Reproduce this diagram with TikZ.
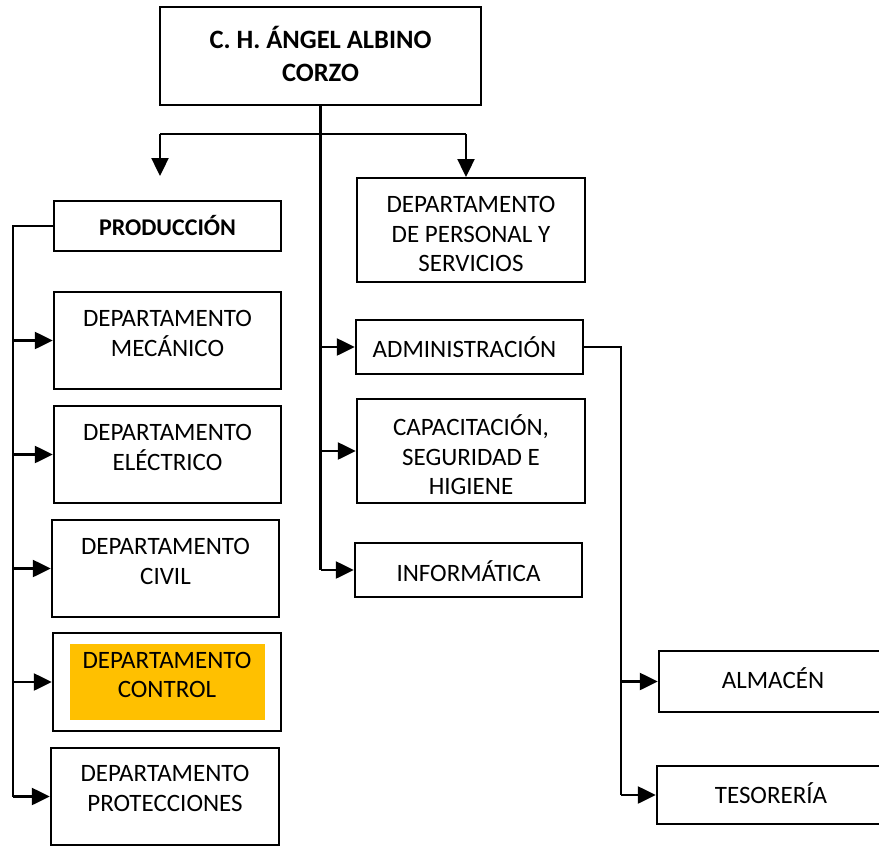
\documentclass[tikz,border=0pt]{standalone}
\usepackage{fontspec}
\setmainfont{Carlito}
\usetikzlibrary{arrows.meta}
\definecolor{orgfill}{HTML}{FFC000}
\begin{document}
\begin{tikzpicture}[x=1pt,y=-1pt,
  box/.style={draw=black,line width=2.4pt,fill=white,inner sep=0pt},
  txt/.style={align=center,inner sep=0pt,font=\fontsize{25}{29.5}\selectfont},
  btxt/.style={txt,font=\fontsize{24}{33}\selectfont\bfseries},
  conn/.style={line width=2.4pt},
  arr/.style={conn,-{Triangle[length=18pt,width=17pt]}}]
\useasboundingbox (0,0) rectangle (879,846);
% boxes
\node[box,minimum width=321,minimum height=98] (top) at (320.5,56) {};
\node[btxt,font=\fontsize{26.5}{33}\selectfont\bfseries] (topt) at ([yshift=2]top.center) {C. H. ÁNGEL ALBINO\\CORZO};
\node[box,minimum width=227,minimum height=50] (prod) at (167.5,226) {};
\node[btxt] (prodt) at (prod.center) {PRODUCCIÓN};
\node[box,minimum width=227,minimum height=97] (mec) at (167.5,340.5) {};
\node[txt] (mect) at ([yshift=7]mec.center) {DEPARTAMENTO\\MECÁNICO};
\node[box,minimum width=227,minimum height=97] (ele) at (167.5,454.5) {};
\node[txt] (elet) at ([yshift=7]ele.center) {DEPARTAMENTO\\ELÉCTRICO};
\node[box,minimum width=227,minimum height=97] (civ) at (165.5,568.5) {};
\node[txt] (civt) at ([yshift=7]civ.center) {DEPARTAMENTO\\CIVIL};
\node[box,minimum width=228,minimum height=98] (con) at (167,682) {};
\node[fill=orgfill,minimum width=195,minimum height=76,inner sep=0pt] (conf) at (167.5,682) {};
\node[txt] (cont) at ([yshift=7]con.center) {DEPARTAMENTO\\CONTROL};
\node[box,minimum width=228,minimum height=97] (pro) at (165,796.5) {};
\node[txt] (prot) at ([yshift=8]pro.center) {DEPARTAMENTO\\PROTECCIONES};
\node[box,minimum width=228,minimum height=104] (per) at (471,230) {};
\node[txt] (pert) at ([yshift=-4]per.center) {DEPARTAMENTO\\DE PERSONAL Y\\SERVICIOS};
\node[box,minimum width=227,minimum height=54] (adm) at (469.5,347) {};
\node[txt] (admt) at ([xshift=-5]adm.center) {ADMINISTRACIÓN};
\node[box,minimum width=228,minimum height=104] (cap) at (471,451) {};
\node[txt] (capt) at ([yshift=-4]cap.center) {CAPACITACIÓN,\\SEGURIDAD E\\HIGIENE};
\node[box,minimum width=227,minimum height=54] (inf) at (468.5,570) {};
\node[txt] (inft) at ([yshift=-1]inf.center) {INFORMÁTICA};
\node[box,minimum width=228,minimum height=61] (alm) at (773,681.5) {};
\node[txt] (almt) at ([yshift=3]alm.center) {ALMACÉN};
\node[box,minimum width=228,minimum height=58] (tes) at (771,795) {};
\node[txt] (test) at ([yshift=2]tes.center) {TESORERÍA};
% coordinates
\coordinate (bar) at (320,134);
\coordinate (barL) at (160,134);
\coordinate (barR) at (466,134);
\coordinate (endL) at (160,176);
\coordinate (endR) at (466,177);
\coordinate (spine) at (13,226);
\coordinate (rsp) at (621,347);
% trunk
\draw[conn] (top.south) -- (top.south |- inf.west);
\draw[conn] (barL) -- (barR);
\draw[arr] (barL) -- (endL);
\draw[arr] (barR) -- (endR);
\draw[arr] (top.south |- adm.west) -- (adm.west);
\draw[arr] (top.south |- cap.west) -- (cap.west);
\draw[arr] (top.south |- inf.west) -- (inf.west);
% production spine
\draw[conn] (prod.west) -- (spine) -- (spine |- pro.west);
\draw[arr] (spine |- mec.west) -- (mec.west);
\draw[arr] (spine |- ele.west) -- (ele.west);
\draw[arr] (spine |- civ.west) -- (civ.west);
\draw[arr] (spine |- con.west) -- (con.west);
\draw[arr] (spine |- pro.west) -- (pro.west);
% administration
\draw[conn] (adm.east) -- (rsp) -- (rsp |- tes.west);
\draw[arr] (rsp |- alm.west) -- (alm.west);
\draw[arr] (rsp |- tes.west) -- (tes.west);
\end{tikzpicture}
\end{document}
